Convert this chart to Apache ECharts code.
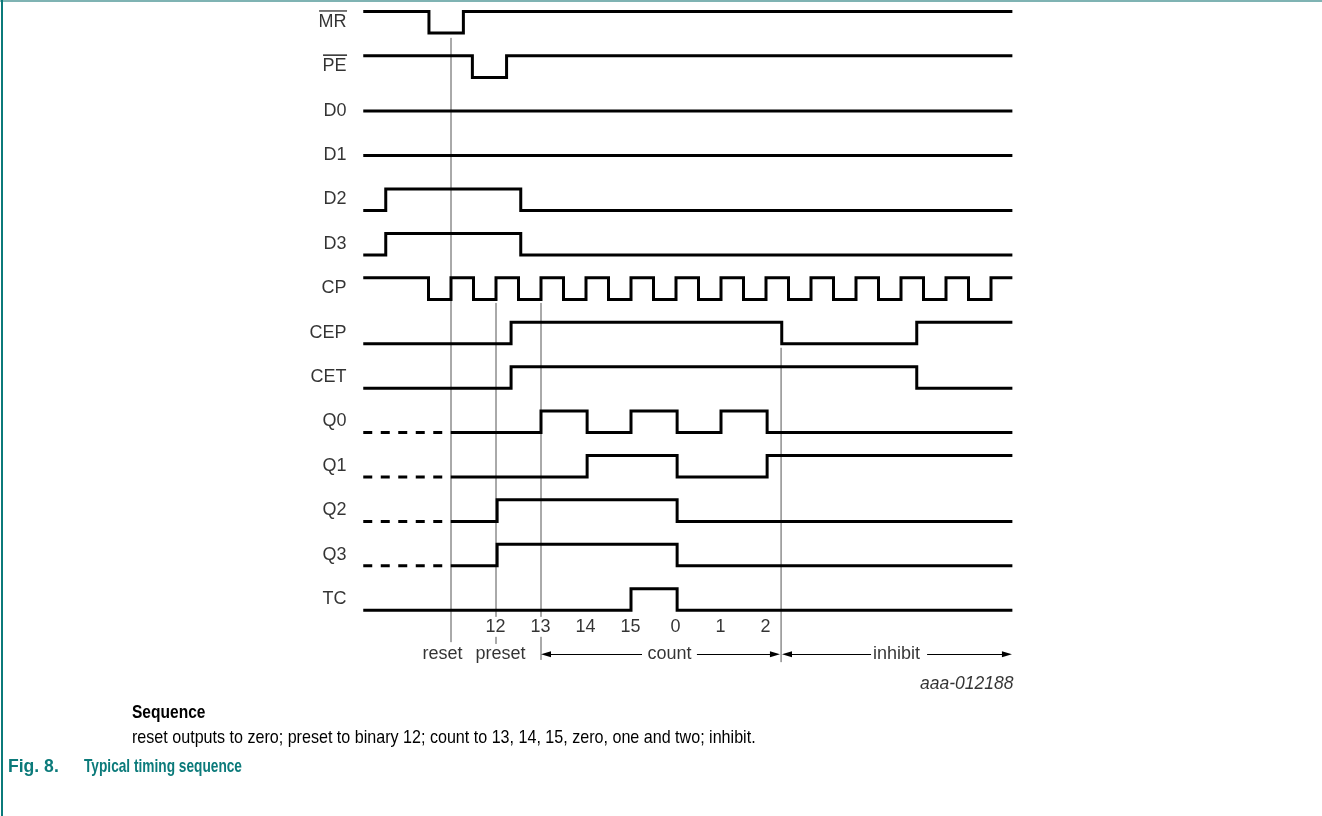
<!DOCTYPE html>
<html><head><meta charset="utf-8">
<script src="https://cdn.jsdelivr.net/npm/echarts@6/dist/echarts.min.js"></script>
<style>html,body{margin:0;padding:0;background:#fff}#c{width:1322px;height:816px}</style>
</head><body><div id="c"></div>
<script>
// ---------- data ----------
const signalNames = ['MR','PE','D0','D1','D2','D3','CP','CEP','CET','Q0','Q1','Q2','Q3','TC'];
const overbarSignals = ['MR','PE'];
const dashedLeadSignals = ['Q0','Q1','Q2','Q3'];
// initial level (1 = high, 0 = low, 0.5 = mid) and edge times (units: half clock periods)
const MR_init = 1,  MR_edges  = [3.02, 4.55];
const PE_init = 1,  PE_edges  = [4.95, 6.47];
const D0_init = 0.5, D0_edges = [];
const D1_init = 0.5, D1_edges = [];
const D2_init = 0,  D2_edges  = [1.1, 7.1];
const D3_init = 0,  D3_edges  = [1.1, 7.1];
const CP_init = 1,  CP_edges  = [3,4,5,6,7,8,9,10,11,12,13,14,15,16,17,18,19,20,21,22,23,24,25,26,27,28];
const CEP_init = 0, CEP_edges = [6.67, 18.7, 24.7];
const CET_init = 0, CET_edges = [6.67, 24.7];
const Q0_init = 0,  Q0_edges  = [8.0, 10.05, 12.0, 14.05, 16.0, 18.05];
const Q1_init = 0,  Q1_edges  = [10.05, 14.05, 18.05];
const Q2_init = 0,  Q2_edges  = [6.05, 14.05];
const Q3_init = 0,  Q3_edges  = [6.05, 14.05];
const TC_init = 0,  TC_edges  = [12.0, 14.05];
const waveInit  = [MR_init,PE_init,D0_init,D1_init,D2_init,D3_init,CP_init,CEP_init,CET_init,Q0_init,Q1_init,Q2_init,Q3_init,TC_init];
const waveEdges = [MR_edges,PE_edges,D0_edges,D1_edges,D2_edges,D3_edges,CP_edges,CEP_edges,CET_edges,Q0_edges,Q1_edges,Q2_edges,Q3_edges,TC_edges];
const tStart = 0.1, tEnd = 28.95, dashedUntil = 4;

const countLabels = ['12','13','14','15','0','1','2'];
const countTimes  = [6, 8, 10, 12, 14, 16, 18];
const phaseLabels = ['reset','preset','count','inhibit'];
const phaseTimes  = [3.64, 6.22, 13.73, 23.82];
// guide lines: time, from row-position, to row-position
const guideTimes = [4, 6, 6, 8, 8, 18.67];
const guideFrom  = [0.11, 6.08, 13.6, 6.08, 13.6, 7.09];
const guideTo    = [13.72, 13.15, 13.76, 13.15, 14.12, 14.17];
// arrows (count / inhibit): segments [from, to], arrowhead at which end
const arrowFrom = [8, 14.93, 18.71, 25.16];
const arrowTo   = [12.49, 18.62, 22.67, 28.93];
const arrowHeadAtFrom = [true, false, true, false];
const arrowHeadAtTo   = [false, true, false, true];
const figId = 'aaa-012188';

// ---------- layout helpers ----------
const xMin = -16, xMax = 30, yMin = -0.5, yMax = 15.5;
const gridLeft = 1, gridWidth = 1035, gridTop = 10.8, gridHeight = 710.4;
const pxPerT = gridWidth / (xMax - xMin);
const amp = 0.485;           // high-low distance in row units
const levelY = (row, lvl) => row - amp * lvl;
const labelFont = "'Liberation Sans', Arial, sans-serif";
const labelT = -0.62;
const arrowLen = 10;

function wavePoints(row, init, edges, from, to) {
  const pts = [];
  let lvl = init;
  pts.push([from, levelY(row, lvl)]);
  edges.forEach(e => {
    if (e <= from || e >= to) return;
    pts.push([e, levelY(row, lvl)]);
    lvl = 1 - lvl;
    pts.push([e, levelY(row, lvl)]);
  });
  pts.push([to, levelY(row, lvl)]);
  return pts;
}

const series = [];
const waveStyle = { color: '#000', width: 3, join: 'miter', cap: 'butt' };
signalNames.forEach((name, i) => {
  const dashed = dashedLeadSignals.includes(name);
  const from = dashed ? dashedUntil : tStart;
  series.push({ type: 'line', name, data: wavePoints(i, waveInit[i], waveEdges[i], from, tEnd),
    symbol: 'none', lineStyle: waveStyle, z: 3 });
  if (dashed) {
    series.push({ type: 'line', data: [[tStart, levelY(i, waveInit[i])], [dashedUntil, levelY(i, waveInit[i])]],
      symbol: 'none', lineStyle: { color: '#000', width: 3, type: [9, 8.5], cap: 'butt' }, z: 3 });
  }
});
// guide lines
guideTimes.forEach((t, k) => {
  series.push({ type: 'line', data: [[t, guideFrom[k]], [t, guideTo[k]]], symbol: 'none',
    lineStyle: { color: '#555', width: 1 }, z: 2 });
});
// arrows
const headOff = arrowLen / 2 / pxPerT;
arrowFrom.forEach((f, k) => {
  const y = 13.99;
  const a = arrowHeadAtFrom[k] ? f + headOff : f;
  const b = arrowHeadAtTo[k] ? arrowTo[k] - headOff : arrowTo[k];
  series.push({ type: 'line', data: [], symbol: 'none',
    markLine: { silent: true, animation: false, label: { show: false },
      lineStyle: { color: '#000', width: 1, type: 'solid' }, symbolSize: [6, arrowLen],
      data: [[{ coord: [a, y], symbol: arrowHeadAtFrom[k] ? 'triangle' : 'none' },
              { coord: [b, y], symbol: arrowHeadAtTo[k] ? 'triangle' : 'none' }]] } });
});
// overbars (measured text width)
const cv = document.createElement('canvas').getContext('2d');
cv.font = '18px ' + labelFont;
overbarSignals.forEach(name => {
  const i = signalNames.indexOf(name);
  const w = cv.measureText(name).width / pxPerT;
  const y = levelY(i, 1) - 0.015;
  series.push({ type: 'line', data: [[labelT - w, y], [labelT, y]], symbol: 'none',
    lineStyle: { color: '#000', width: 1.3 } });
});
// text labels through scatter
const txt = (data, opts) => ({ type: 'scatter', data, symbolSize: 1, itemStyle: { color: 'rgba(0,0,0,0)' }, z: 5,
  label: Object.assign({ show: true, position: [0, 0], color: '#000', fontFamily: labelFont, fontSize: 18,
    verticalAlign: 'middle', formatter: p => p.data[2] }, opts) });
series.push(txt(signalNames.map((n, i) => [labelT, i - amp / 2, n]), { align: 'right' }));
series.push(txt(countLabels.map((n, i) => [countTimes[i], 13.38, n]), { align: 'center' }));
series.push(txt(phaseLabels.map((n, i) => [phaseTimes[i], 13.99, n]), { align: 'center' }));
series.push(txt([[29.02, 14.68, figId]], { align: 'right', fontStyle: 'italic', fontSize: 17.5 }));

const capFont = "'Liberation Sans', Arial, sans-serif";
const chart = echarts.init(document.getElementById('c'), null, { renderer: 'canvas' });
chart.setOption({
  animation: false,
  backgroundColor: '#fff',
  grid: { left: gridLeft, top: gridTop, width: gridWidth, height: gridHeight, containLabel: false },
  xAxis: { type: 'value', min: xMin, max: xMax, show: false },
  yAxis: { type: 'value', min: yMin, max: yMax, inverse: true, show: false },
  series,
  graphic: [
    { type: 'line', shape: { x1: 0, y1: 1, x2: 1322, y2: 1 }, style: { stroke: '#7fb3b3', lineWidth: 2 } },
    { type: 'line', shape: { x1: 2, y1: 0, x2: 2, y2: 816 }, style: { stroke: '#0b7a7a', lineWidth: 2 } },
    { type: 'text', x: 132, y: 713, scaleX: 0.84, style: { text: 'Sequence', fill: '#000', font: "bold 18.5px " + capFont, textVerticalAlign: 'middle' } },
    { type: 'text', x: 132, y: 738, scaleX: 0.87, style: { text: 'reset outputs to zero; preset to binary 12; count to 13, 14, 15, zero, one and two; inhibit.', fill: '#000', font: "18.5px " + capFont, textVerticalAlign: 'middle' } },
    { type: 'text', x: 8, y: 767, scaleX: 0.95, style: { text: 'Fig. 8.', fill: '#0b7a7a', font: "bold 18.5px " + capFont, textVerticalAlign: 'middle' } },
    { type: 'text', x: 84, y: 767, scaleX: 0.74, style: { text: 'Typical timing sequence', fill: '#0b7a7a', font: "bold 18.5px " + capFont, textVerticalAlign: 'middle' } }
  ]
});
</script></body></html>
